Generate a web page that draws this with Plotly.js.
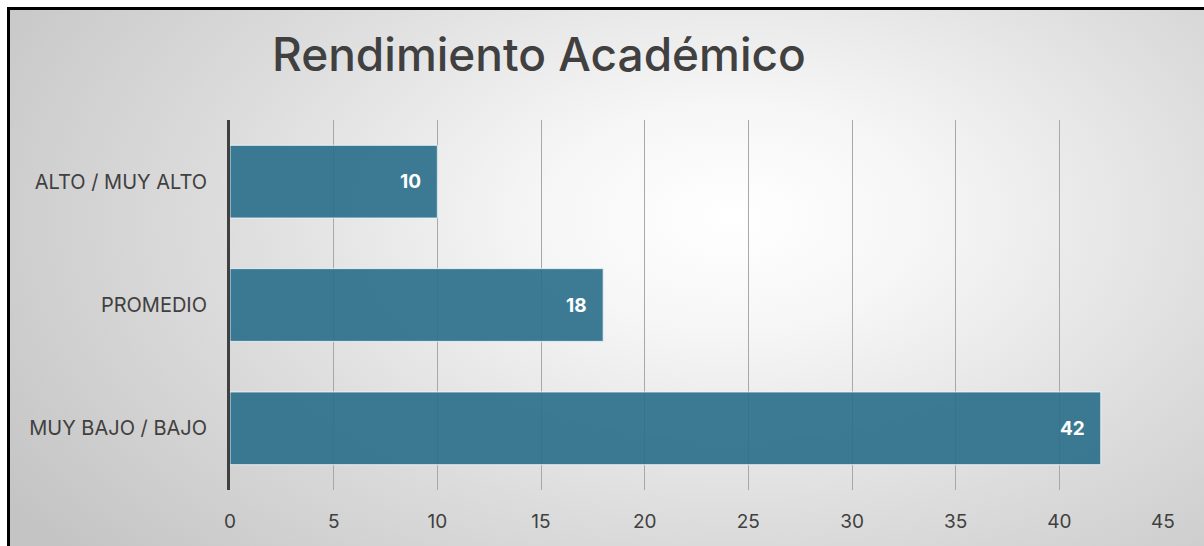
<!DOCTYPE html>
<html>
<head>
<meta charset="utf-8">
<script src="https://cdn.plot.ly/plotly-3.0.1.min.js"></script>
<style>
  html, body { margin: 0; padding: 0; width: 1204px; height: 546px; overflow: hidden; background: #ffffff; }
  #frame {
    position: absolute; left: 7px; top: 7px; width: 1204px; height: 546px;
    border-top: 3px solid #000; border-left: 3px solid #000;
    background: radial-gradient(ellipse 72% 95% at 60% 38%, #ffffff 0%, #f6f6f6 22%, #dcdcdc 60%, #c4c4c4 100%);
  }
  #chart { position: absolute; left: 0; top: 0; width: 1204px; height: 546px; }
</style>
</head>
<body>
<div id="frame"></div>
<div id="chart"></div>
<script>
const categories = ['MUY BAJO / BAJO', 'PROMEDIO', 'ALTO / MUY ALTO'];
const values = [42, 18, 10];
const xTicks = [0, 5, 10, 15, 20, 25, 30, 35, 40, 45];

const trace = {
  type: 'bar',
  orientation: 'h',
  y: categories,
  x: values,
  marker: { color: 'rgba(44,112,140,0.92)', line: { color: 'rgba(235,245,250,0.9)', width: 1 } },
  hoverinfo: 'x+y'
};

const annotations = values.map((v, i) => ({
  x: v, y: categories[i], xref: 'x', yref: 'y',
  text: String(v), showarrow: false, xanchor: 'right', yanchor: 'middle', xshift: -14,
  font: { family: 'Inter, Roboto, sans-serif', size: 19, color: '#ffffff', weight: 'bold' }
}));

const layout = {
  width: 1204, height: 546,
  margin: { l: 230, r: 41, t: 120, b: 56, pad: 0 },
  paper_bgcolor: 'rgba(0,0,0,0)',
  plot_bgcolor: 'rgba(0,0,0,0)',
  showlegend: false,
  bargap: 0.41,
  title: {
    text: 'Rendimiento Académico',
    xref: 'container', yref: 'container',
    x: 272 / 1204, y: 1 - 55 / 546,
    xanchor: 'left', yanchor: 'middle',
    font: { family: 'Inter, sans-serif', size: 46, color: '#404040', weight: 500 }
  },
  font: { family: 'Inter, sans-serif', color: '#404040', size: 19 },
  xaxis: {
    range: [0, 45], tickvals: xTicks, ticktext: xTicks.map(String),
    showgrid: true, gridcolor: '#a8a8a8', gridwidth: 1,
    zeroline: false, showline: false, ticks: '', ticklabelstandoff: 18,
    tickfont: { size: 19, color: '#404040' }, fixedrange: true
  },
  yaxis: {
    type: 'category', showgrid: false, zeroline: false,
    showline: true, linecolor: '#404040', linewidth: 3,
    ticks: '', ticklabelstandoff: 16,
    tickfont: { size: 20, color: '#404040' }, fixedrange: true
  },
  annotations: annotations
};

Plotly.newPlot('chart', [trace], layout, { displayModeBar: false, staticPlot: true });
</script>
</body>
</html>
